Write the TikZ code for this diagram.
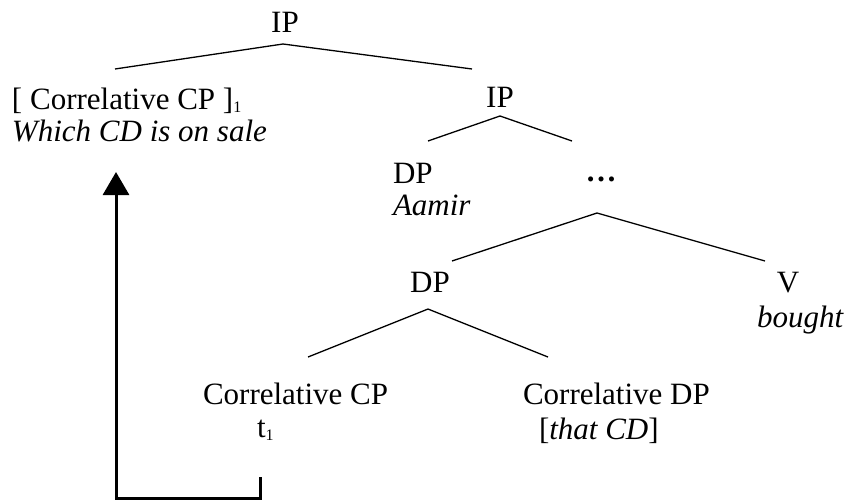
\documentclass[tikz,border=0pt]{standalone}
\usepackage{fontspec}
\setmainfont{Liberation Serif}
\usetikzlibrary{arrows.meta}
\newcommand{\subone}{{\fontsize{16}{16}\selectfont\raisebox{-3pt}{1}}}
\tikzset{
  lbl/.style={inner sep=0pt, outer sep=0pt, font=\fontsize{31}{34}\selectfont},
  lblw/.style={lbl, anchor=base west},
  lblc/.style={lbl, anchor=base},
  branch/.style={line width=1.3pt, line cap=butt},
  movearrow/.style={line width=3pt, line join=miter, -{Triangle[width=26pt,length=23pt]}}
}
\begin{document}
\begin{tikzpicture}[x=1pt,y=-1pt]
\useasboundingbox (0,0) rectangle (845,500);
% nodes
\node[lblc] (ip1) at (285,33) {IP};
\node[lblw] (ccp) at (12,110) {[ Correlative CP ]\subone};
\node[lblw] (which) at (12,141) {\itshape Which CD is on sale};
\node[lblc] (ip2) at (500,107) {IP};
\node[lblw] (dp1) at (393,183) {DP};
\node[lblw] (aamir) at (393,215) {\itshape Aamir};
\node[lblc] (dots) at (601,181) {\textbf{…}};
\node[lblc] (dp2) at (430,292) {DP};
\node[lblc] (v) at (788,292) {V};
\node[lblw] (bought) at (757,327) {\itshape bought};
\node[lblw] (corcp) at (203,404) {Correlative CP};
\node[lblw] (trace) at (257,437) {t\subone};
\node[lblw] (cordp) at (523,404) {Correlative DP};
\node[lblw] (thatcd) at (539,439) {[\textit{that CD}]};
% branch points
\coordinate (ip1-b) at (283,44);
\coordinate (ccp-t) at (115,69);
\coordinate (ip2-t) at (472,69);
\coordinate (ip2-b) at (500,116);
\coordinate (dp1-t) at (428,141);
\coordinate (dots-t) at (572,141);
\coordinate (dots-b) at (597,213);
\coordinate (dp2-t) at (452,261);
\coordinate (v-t) at (765,261);
\coordinate (dp2-b) at (428,309);
\coordinate (corcp-t) at (308,357);
\coordinate (cordp-t) at (548,357);
\draw[branch] (ccp-t) -- (ip1-b) -- (ip2-t);
\draw[branch] (dp1-t) -- (ip2-b) -- (dots-t);
\draw[branch] (dp2-t) -- (dots-b) -- (v-t);
\draw[branch] (corcp-t) -- (dp2-b) -- (cordp-t);
% movement arrow
\coordinate (trace-foot) at (260,477);
\coordinate (arrow-corner) at (116,498);
\coordinate (arrow-tip) at (116,172);
\draw[movearrow] (trace-foot) |- (arrow-corner) -- (arrow-tip);
\end{tikzpicture}
\end{document}
